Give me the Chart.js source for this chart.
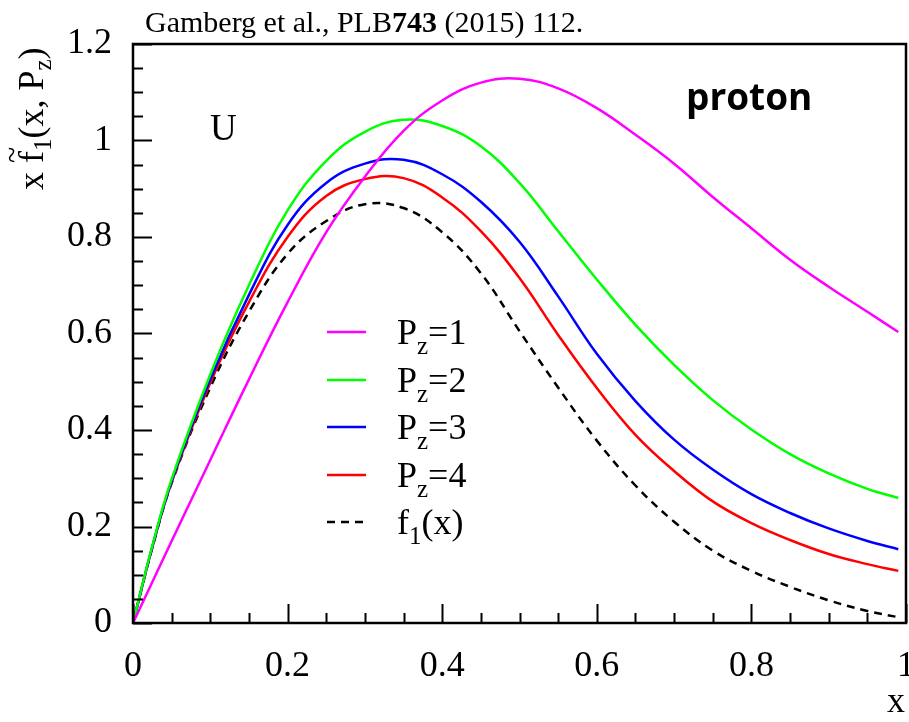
<!DOCTYPE html>
<html>
<head>
<meta charset="utf-8">
<script src="https://cdn.jsdelivr.net/npm/chart.js@4"></script>
<style>
  body { margin: 0; background: #fff; }
  canvas { display: block; }
</style>
</head>
<body>
<canvas id="chart" width="909" height="722"></canvas>
<script>
// values
const xVals = [0, 0.025, 0.05, 0.1, 0.15, 0.2, 0.25, 0.3, 0.35, 0.4, 0.45, 0.5, 0.55, 0.6, 0.65, 0.7, 0.75, 0.8, 0.85, 0.9, 0.95, 0.99];
const pz1 = [0, 0.085, 0.17, 0.338, 0.505, 0.665, 0.81, 0.925, 1.02, 1.083, 1.12, 1.128, 1.108, 1.067, 1.012, 0.952, 0.883, 0.818, 0.753, 0.697, 0.645, 0.603];
const pz2 = [0, 0.16, 0.298, 0.515, 0.70, 0.855, 0.958, 1.018, 1.043, 1.03, 0.988, 0.912, 0.812, 0.712, 0.618, 0.535, 0.462, 0.401, 0.35, 0.31, 0.278, 0.259];
const pz3 = [0, 0.158, 0.294, 0.505, 0.68, 0.825, 0.912, 0.952, 0.96, 0.93, 0.873, 0.79, 0.677, 0.558, 0.46, 0.38, 0.318, 0.267, 0.228, 0.196, 0.17, 0.153];
const pz4 = [0, 0.157, 0.292, 0.498, 0.665, 0.80, 0.885, 0.92, 0.922, 0.882, 0.812, 0.715, 0.597, 0.487, 0.39, 0.315, 0.252, 0.207, 0.172, 0.143, 0.122, 0.108];
const f1 = [0, 0.156, 0.29, 0.488, 0.645, 0.765, 0.833, 0.868, 0.86, 0.81, 0.725, 0.605, 0.488, 0.378, 0.285, 0.21, 0.15, 0.108, 0.075, 0.047, 0.025, 0.012];

const seriesNames = ["1", "2", "3", "4", "f1"];
const seriesColors = ["#ff00ff", "#00ff00", "#0000ff", "#ff0000", "#000000"];
const xTicks = [0, 0.2, 0.4, 0.6, 0.8, 1];
const yTicks = [0, 0.2, 0.4, 0.6, 0.8, 1, 1.2];

const SERIF = '"Liberation Serif", "Times New Roman", serif';

function pts(ys) {
  return xVals.map((x, i) => ({ x: x, y: ys[i] }));
}

const allSeries = [pz1, pz2, pz3, pz4, f1];
const datasets = allSeries.map((ys, i) => ({
  label: seriesNames[i],
  data: pts(ys),
  borderColor: seriesColors[i],
  borderWidth: 2.5,
  borderDash: i === 4 ? [8, 6] : [],
  pointRadius: 0,
  tension: 0.4,
  fill: false
}));

function fmt(v) {
  return String(Math.round(v * 10) / 10);
}

// draws text pieces one after another: [text, sizePx, dy, bold]
function drawRuns(ctx, x, y, runs) {
  runs.forEach(r => {
    ctx.font = (r[3] ? "bold " : "") + r[1] + "px " + SERIF;
    ctx.fillText(r[0], x, y + r[2]);
    x += ctx.measureText(r[0]).width;
  });
  return x;
}

const decorations = {
  id: "decorations",
  afterDraw(chart) {
    const ctx = chart.ctx;
    const a = chart.chartArea;
    const xs = chart.scales.x, ys = chart.scales.y;
    ctx.save();
    ctx.strokeStyle = "#000";
    ctx.fillStyle = "#000";

    // ticks, inward
    ctx.lineWidth = 2;
    ctx.beginPath();
    for (let k = 0; k <= 20; k++) {
      const px = Math.round(xs.getPixelForValue(k * 0.05)) + 0.5;
      const len = k % 4 === 0 ? 19 : 10;
      ctx.moveTo(px, a.bottom);
      ctx.lineTo(px, a.bottom - len);
    }
    for (let k = 0; k <= 24; k++) {
      const py = Math.round(ys.getPixelForValue(k * 0.05)) + 0.5;
      const len = k % 4 === 0 ? 19 : 10;
      ctx.moveTo(a.left, py);
      ctx.lineTo(a.left + len, py);
    }
    ctx.stroke();

    // frame
    ctx.lineWidth = 2.5;
    ctx.strokeRect(a.left, a.top, a.right - a.left, a.bottom - a.top);

    ctx.textBaseline = "alphabetic";
    ctx.textAlign = "left";

    // citation
    drawRuns(ctx, 145, 32, [["Gamberg et al., PLB", 30, 0], ["743", 30, 0, true], [" (2015) 112.", 30, 0]]);

    // U label
    ctx.font = "37px " + SERIF;
    ctx.fillText("U", 210, 140);

    // proton label
    ctx.font = 'bold 37px "Open Sans", "DejaVu Sans", sans-serif';
    ctx.fillText("proton", 686, 110);

    // x axis title
    ctx.font = "36px " + SERIF;
    ctx.textAlign = "right";
    ctx.fillText("x", 905, 712);
    ctx.textAlign = "left";

    // y axis title
    ctx.save();
    ctx.translate(43, 190);
    ctx.rotate(-Math.PI / 2);
    let cx = drawRuns(ctx, 0, 0, [["x ", 36, 0]]);
    ctx.font = "36px " + SERIF;
    const fw = ctx.measureText("f").width;
    ctx.font = "30px " + SERIF;
    ctx.fillText("~", cx + fw / 2 - ctx.measureText("~").width / 2 + 2, -21);
    drawRuns(ctx, cx, 0, [["f", 36, 0], ["1", 25, 8], ["(x, P", 36, 0], ["z", 25, 8], [")", 36, 0]]);
    ctx.restore();

    // legend
    const rowsY = [332, 380, 427, 475, 522];
    rowsY.forEach((y, i) => {
      ctx.strokeStyle = seriesColors[i];
      ctx.lineWidth = 2.5;
      ctx.setLineDash(i === 4 ? [8, 6] : []);
      ctx.beginPath();
      ctx.moveTo(327, y);
      ctx.lineTo(366, y);
      ctx.stroke();
      ctx.setLineDash([]);
      ctx.fillStyle = "#000";
      if (i < 4) {
        drawRuns(ctx, 397, y + 12, [["P", 36, 0], ["z", 25, 10], ["=" + seriesNames[i], 36, 0]]);
      } else {
        drawRuns(ctx, 397, y + 12, [["f", 36, 0], ["1", 25, 10], ["(x)", 36, 0]]);
      }
    });
    ctx.restore();
  }
};

new Chart(document.getElementById("chart"), {
  type: "line",
  data: { datasets: datasets },
  plugins: [decorations],
  options: {
    responsive: false,
    animation: false,
    layout: { padding: { top: 44, right: 3, left: 0, bottom: 0 } },
    plugins: { legend: { display: false }, tooltip: { enabled: false } },
    scales: {
      x: {
        type: "linear",
        min: 0,
        max: 1,
        grid: { display: false },
        border: { display: false },
        afterBuildTicks: s => { s.ticks = xTicks.map(v => ({ value: v })); },
        afterFit: s => { s.height = 99; s.paddingLeft = 0; s.paddingRight = 0; },
        ticks: {
          callback: fmt,
          color: "#000",
          padding: 14,
          maxRotation: 0,
          autoSkip: false,
          font: { family: SERIF, size: 36 }
        }
      },
      y: {
        type: "linear",
        min: 0,
        max: 1.2,
        grid: { display: false },
        border: { display: false },
        afterBuildTicks: s => { s.ticks = yTicks.map(v => ({ value: v })); },
        afterFit: s => { s.width = 133; s.paddingTop = 0; s.paddingBottom = 0; },
        ticks: {
          callback: fmt,
          color: "#000",
          padding: 13,
          autoSkip: false,
          font: { family: SERIF, size: 36 }
        }
      }
    }
  }
});
</script>
</body>
</html>
